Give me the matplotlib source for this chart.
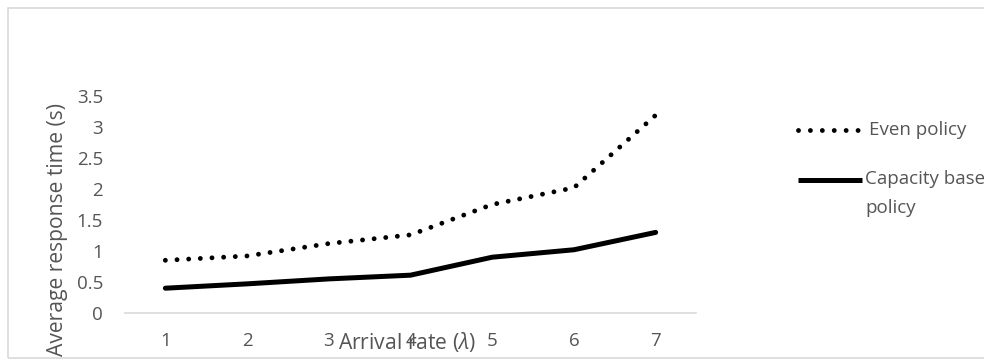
import matplotlib
matplotlib.use("Agg")
import matplotlib.pyplot as plt
from matplotlib.lines import Line2D
from matplotlib.patches import Rectangle
from matplotlib.transforms import Bbox

plt.rcParams['font.family'] = ['Open Sans', 'DejaVu Sans']
plt.rcParams['mathtext.fontset'] = 'custom'
plt.rcParams['mathtext.rm'] = 'Open Sans'
plt.rcParams['mathtext.it'] = 'Open Sans:italic'

# Data: average response time (s) versus arrival rate
arrival_rates = [1, 2, 3, 4, 5, 6, 7]
even_policy = [0.85, 0.92, 1.12, 1.26, 1.75, 2.02, 3.19]
capacity_policy = [0.40, 0.47, 0.55, 0.61, 0.90, 1.02, 1.30]
y_ticks = [0, 0.5, 1, 1.5, 2, 2.5, 3, 3.5]
series_labels = ["Even policy", "Capacity based\npolicy"]

W, H = 984, 360
DPI = 100
TEXT = "#555555"
FS_TICK = 13.5
FS_TITLE = 15.2
FS_LEG = 13.5

fig = plt.figure(figsize=(W / DPI, H / DPI), dpi=DPI)

# Chart-area frame
fig.add_artist(Rectangle((8 / W, 2 / H), 1.1, (H - 10) / H, transform=fig.transFigure,
                         facecolor="none", edgecolor="#d9d9d9", lw=1.2))

# Plot area in pixel terms
left, right = 124.5, 696.5
top, bottom = 96, 313
ax = fig.add_axes([left / W, 1 - bottom / H, (right - left) / W, (bottom - top) / H])

dot_style = (0, (0.001, 2.4))
ax.plot(arrival_rates, even_policy, color="black", lw=3.5, linestyle=dot_style,
        dash_capstyle="round", solid_capstyle="round")
ax.plot(arrival_rates, capacity_policy, color="black", lw=3.6, solid_capstyle="round",
        solid_joinstyle="round")

ax.set_xlim(0.5, 7.5)
ax.set_ylim(0, 3.5)
ax.set_yticks(y_ticks)
ax.set_yticklabels([f"{t:g}" for t in y_ticks])
ax.set_xticks(arrival_rates)
ax.set_xticklabels([str(x) for x in arrival_rates])
ax.tick_params(axis="both", length=0, labelsize=FS_TICK, labelcolor=TEXT)
ax.tick_params(axis="y", pad=15.5)
ax.tick_params(axis="x", pad=14)
for side in ["top", "right", "left"]:
    ax.spines[side].set_visible(False)
ax.spines["bottom"].set_color("#d9d9d9")
ax.spines["bottom"].set_linewidth(1.2)
ax.patch.set_alpha(0)

# Axis titles
fig.text(407 / W, 1 - 342 / H, r"Arrival rate ($\lambda$)", ha="center", va="center",
         fontsize=FS_TITLE, color=TEXT)
ylab = fig.text(57 / W, 1 - 230 / H, "Average response time (s)", rotation=90,
                ha="center", va="center", fontsize=FS_TITLE, color=TEXT)
ylab.set_clip_on(True)
ylab.set_clip_box(Bbox.from_extents(9, 3, W, H - 9))

# Legend
fig.add_artist(Line2D([798 / W, 858 / W], [1 - 130 / H, 1 - 130 / H], transform=fig.transFigure,
                      color="black", lw=3.5, linestyle=(0, (0.001, 2.45)), dash_capstyle="round"))
fig.text(869 / W, 1 - 130 / H, series_labels[0], ha="left", va="center", fontsize=FS_LEG,
         color=TEXT)
fig.add_artist(Line2D([798 / W, 862 / W], [1 - 180 / H, 1 - 180 / H], transform=fig.transFigure,
                      color="black", lw=3.6, solid_capstyle="butt"))
fig.text(865 / W, 1 - 193.5 / H, series_labels[1], ha="left", va="center", fontsize=FS_LEG,
         color=TEXT, linespacing=1.85)

fig.savefig("out.png", dpi=DPI)
